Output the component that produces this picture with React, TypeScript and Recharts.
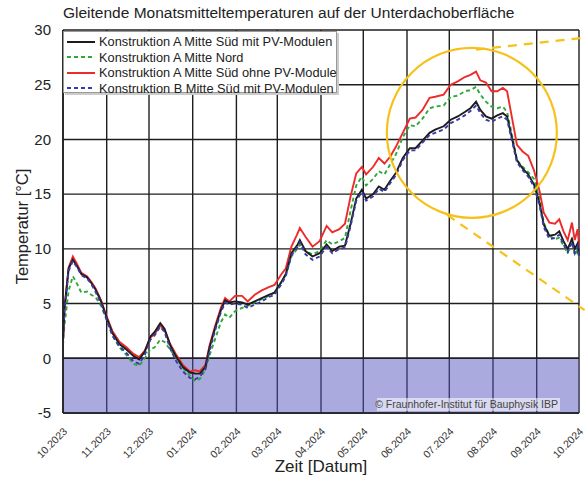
import React from 'react'
import {
  LineChart,
  Line,
  XAxis,
  YAxis,
  CartesianGrid,
  ReferenceArea,
  ReferenceLine,
  ReferenceDot,
  Label,
} from 'recharts'

// days since 01.10.2023
const DAYS = [
  0, 1, 4, 7, 10, 13, 17, 20, 23, 27, 31, 35, 40, 45, 50, 54, 58, 62, 65, 69, 72, 76, 80, 85, 90, 94, 97,
  101, 104, 108, 112, 115, 118, 122, 127, 131, 136, 141, 146, 150, 155, 158, 162, 166, 168, 172, 177, 182,
  187, 191, 196, 200, 204, 208, 212, 215, 220, 224, 228, 232, 236, 241, 246, 250, 255, 260, 264, 270, 275,
  280, 285, 289, 293, 296, 300, 304, 308, 312, 315, 319, 322, 326, 330, 334, 338, 341, 345, 349, 352, 355,
  358, 361, 363, 365, 366,
]

const A_SUED_PV = [
  1.8, 4.5, 8.2, 9.0, 8.4, 7.7, 7.4, 6.9, 6.3, 5.2, 3.7, 2.3, 1.3, 0.8, 0.2, -0.1, 0.6, 2.0, 2.4, 3.2, 2.7,
  1.2, 0.2, -0.8, -1.3, -1.4, -1.4, -0.8, 1.0, 2.8, 4.4, 5.3, 5.1, 5.2, 5.1, 4.9, 5.2, 5.5, 5.8, 6.0, 7.0,
  7.7, 9.6, 10.3, 10.8, 9.8, 9.3, 9.6, 10.4, 9.8, 10.2, 10.3, 12.3, 14.6, 15.4, 14.6, 15.0, 15.7, 15.4,
  16.2, 16.9, 18.3, 19.2, 19.2, 19.9, 20.6, 20.9, 21.2, 21.8, 22.1, 22.5, 22.85, 23.45, 22.7, 22.1, 21.9,
  22.2, 22.4, 22.1, 19.8, 18.1, 17.35, 16.8, 15.9, 14.2, 12.2, 11.2, 11.3, 11.6, 10.7, 10.0, 10.9, 10.0,
  10.5, 9.4,
]

const A_NORD = [
  1.2, 3.0, 6.2, 7.5, 6.8, 6.0, 6.1, 5.8, 5.6, 4.8, 3.5, 2.1, 1.0, 0.3, -0.5, -0.7, 0.0, 0.8, 1.0, 1.7, 1.5,
  0.8, 0.1, -0.9, -1.6, -2.1, -1.9, -1.0, 0.3, 1.8, 3.3, 4.0, 3.7, 4.3, 4.6, 4.8, 5.1, 5.4, 5.7, 6.0, 7.0,
  7.6, 9.3, 10.0, 10.4, 9.8, 9.5, 9.8, 10.8, 10.4, 10.7, 11.0, 13.5, 15.8, 16.6, 15.8, 16.4, 17.1, 16.8,
  17.7, 18.6, 20.2, 21.3, 21.2, 21.9, 22.85, 23.0, 23.1, 23.9, 24.0, 24.4, 24.5, 24.8, 24.1, 23.45, 23.0,
  22.85, 23.0, 22.5, 20.1, 18.1, 17.5, 17.0, 16.4, 14.6, 12.4, 11.2, 10.9, 11.0, 10.3, 9.6, 11.0, 9.4,
  10.0, 9.2,
]

const A_SUED_OHNE = [
  1.5, 4.5, 8.3, 9.3, 8.6, 7.8, 7.5, 7.0, 6.4, 5.3, 3.8, 2.5, 1.5, 1.0, 0.4, 0.1, 0.7, 1.9, 2.2, 3.0, 2.6,
  1.3, 0.4, -0.6, -1.2, -1.1, -1.2, -0.6, 1.2, 3.0, 4.6, 5.5, 5.2, 5.7, 5.7, 5.2, 5.8, 6.2, 6.5, 6.7, 7.7,
  8.2, 10.2, 11.3, 11.9, 11.1, 10.2, 10.7, 12.1, 11.5, 11.8, 12.3, 14.8, 16.9, 17.5, 16.8, 17.5, 18.3,
  17.8, 18.4, 19.3, 20.6, 21.9, 22.0, 22.7, 23.8, 23.9, 24.1, 25.0, 25.3, 25.7, 25.9, 26.2, 25.4, 25.2,
  24.4, 24.4, 24.7, 24.4, 21.6, 19.5, 18.9, 18.5, 17.2, 15.3, 13.3, 12.4, 12.3, 12.7, 11.6, 10.8, 12.4,
  10.8, 11.8, 10.4,
]

const B_SUED_PV = [
  1.6, 4.2, 8.0, 8.9, 8.3, 7.6, 7.3, 6.8, 6.1, 5.0, 3.5, 2.1, 1.1, 0.5, -0.3, -0.5, 0.3, 1.7, 2.1, 2.9, 2.4,
  0.9, -0.2, -1.2, -1.8, -1.9, -1.7, -1.0, 0.7, 2.6, 4.2, 5.1, 4.9, 5.0, 4.9, 4.6, 4.9, 5.2, 5.6, 5.8, 6.8,
  7.5, 9.4, 10.1, 10.6, 9.5, 9.0, 9.3, 10.2, 9.6, 10.0, 10.1, 12.1, 14.4, 15.2, 14.4, 14.8, 15.5, 15.2,
  16.0, 16.7, 18.1, 19.0, 19.0, 19.7, 20.4, 20.6, 20.9, 21.5, 21.8, 22.2, 22.6, 23.1, 22.4, 21.8, 21.6,
  21.9, 22.1, 21.8, 19.6, 17.9, 17.2, 16.6, 15.7, 14.0, 12.0, 10.9, 11.0, 11.3, 10.4, 9.7, 10.6, 9.6,
  10.2, 9.2,
]

const MONTH_TICKS = [0, 31, 61, 92, 123, 152, 183, 213, 244, 274, 305, 336, 366]
const MONTH_LABELS = [
  '10.2023', '11.2023', '12.2023', '01.2024', '02.2024', '03.2024', '04.2024',
  '05.2024', '06.2024', '07.2024', '08.2024', '09.2024', '10.2024',
]
const Y_TICKS = [-5, 0, 5, 10, 15, 20, 25, 30]

const SERIES = [
  { key: 'aSuedPv', name: 'Konstruktion A Mitte Süd mit PV-Modulen', color: '#1c1c1c', dash: undefined },
  { key: 'aNord', name: 'Konstruktion A Mitte Nord', color: '#2fa83a', dash: '4 3' },
  { key: 'aSuedOhne', name: 'Konstruktion A Mitte Süd ohne PV-Module', color: '#ee2a2a', dash: undefined },
  { key: 'bSuedPv', name: 'Konstruktion B Mitte Süd mit PV-Modulen', color: '#3a3aa6', dash: '4 3' },
]
const DRAW_ORDER = ['aNord', 'aSuedOhne', 'aSuedPv', 'bSuedPv']

const rows = DAYS.map((d, i) => ({
  d,
  aSuedPv: A_SUED_PV[i],
  aNord: A_NORD[i],
  aSuedOhne: A_SUED_OHNE[i],
  bSuedPv: B_SUED_PV[i],
}))

const FONT = '"Liberation Sans", Arial, sans-serif'
const GOLD = '#f6c21a'

function MonthTick({ x, y, payload }: any) {
  const i = MONTH_TICKS.indexOf(payload.value)
  return (
    <g transform={`translate(${x + 5},${y + 11})`}>
      <text x={0} y={0} textAnchor="end" transform="rotate(-45)" fontSize={10.5} fill="#333" fontFamily={FONT}>
        {MONTH_LABELS[i]}
      </text>
    </g>
  )
}

function CopyrightLabel({ viewBox }: any) {
  const right = viewBox.x + viewBox.width - 21
  const bottom = viewBox.y + viewBox.height - 2
  return (
    <g>
      <rect x={right - 181} y={bottom - 13} width={183} height={13} fill="#fff" fillOpacity={0.55} />
      <text x={right} y={bottom - 3} textAnchor="end" fontSize={10.5} fill="#444" fontFamily={FONT}>
        © Fraunhofer-Institut für Bauphysik IBP
      </text>
    </g>
  )
}

function ChartLegend() {
  return (
    <div
      style={{
        position: 'absolute', left: 63, top: 31, width: 274, height: 62,
        background: '#fff', border: '1px solid #999', boxShadow: '2px 2px 0 #ccc',
        fontFamily: FONT, fontSize: 12.8, color: '#222', padding: '2px 0 0 2px', boxSizing: 'border-box',
      }}
    >
      {SERIES.map((s) => (
        <div key={s.key} style={{ display: 'flex', alignItems: 'center', height: 15.5 }}>
          <svg width={30} height={6} style={{ marginRight: 3, flexShrink: 0 }}>
            <line x1={1} y1={3} x2={29} y2={3} stroke={s.color} strokeWidth={2} strokeDasharray={s.dash} />
          </svg>
          <span style={{ whiteSpace: 'nowrap' }}>{s.name}</span>
        </div>
      ))}
    </div>
  )
}

export default function App() {
  return (
    <div style={{ position: 'absolute', left: 0, top: 0, width: 585, height: 481, background: '#fff', overflow: 'hidden' }}>
      <LineChart width={585} height={481} data={rows} margin={{ top: 30, right: 6, bottom: 0, left: 0 }}>
        <CartesianGrid stroke="#1e1e1e" strokeWidth={1.4} horizontalValues={Y_TICKS} verticalValues={MONTH_TICKS} />
        <XAxis
          type="number"
          dataKey="d"
          domain={[0, 366]}
          ticks={MONTH_TICKS}
          interval={0}
          height={68}
          tickLine={false}
          axisLine={{ stroke: '#1e1e1e', strokeWidth: 1.6 }}
          tick={<MonthTick />}
        >
          <Label
            content={() => (
              <text x={321} y={472} textAnchor="middle" fontSize={17} fill="#222" fontFamily={FONT}>
                Zeit [Datum]
              </text>
            )}
          />
        </XAxis>
        <YAxis
          type="number"
          domain={[-5, 30]}
          ticks={Y_TICKS}
          interval={0}
          width={63}
          tickLine={false}
          axisLine={{ stroke: '#1e1e1e', strokeWidth: 1.6 }}
          tick={{ fontSize: 15, fill: '#222', fontFamily: FONT }}
          tickMargin={6}
        >
          <Label
            content={({ viewBox }: any) => {
              const cy = viewBox.y + viewBox.height / 2 + 5
              return (
                <text x={28} y={cy} transform={`rotate(-90, 28, ${cy})`} textAnchor="middle" fontSize={16.5} fill="#222" fontFamily={FONT}>
                  Temperatur [°C]
                </text>
              )
            }}
          />
        </YAxis>
        <ReferenceArea y1={-5} y2={0} fill="#5656bd" fillOpacity={0.5} stroke="none" label={<CopyrightLabel />} />
        <ReferenceLine y={0} stroke="#1e1e1e" strokeWidth={1.4} />
        {DRAW_ORDER.map((k) => {
          const s = SERIES.find((x) => x.key === k)!
          return (
            <Line
              key={k}
              type="linear"
              dataKey={k}
              name={s.name}
              stroke={s.color}
              strokeWidth={1.9}
              strokeDasharray={s.dash}
              dot={false}
              isAnimationActive={false}
            />
          )
        })}
        <ReferenceDot x={290} y={20.6} r={85} fill="none" stroke={GOLD} strokeWidth={2.2} ifOverflow="visible" />
        <ReferenceLine
          segment={[{ x: 293, y: 28.2 }, { x: 370, y: 29.3 }]}
          stroke={GOLD}
          strokeWidth={2.2}
          strokeDasharray="9 7"
          ifOverflow="visible"
        />
        <ReferenceLine
          segment={[{ x: 272.5, y: 13.1 }, { x: 370, y: 4.4 }]}
          stroke={GOLD}
          strokeWidth={2.2}
          strokeDasharray="9 7"
          ifOverflow="visible"
        />
      </LineChart>
      <div
        style={{
          position: 'absolute', left: 63, top: 4, fontFamily: FONT, fontSize: 15.5, color: '#222', whiteSpace: 'nowrap',
        }}
      >
        Gleitende Monatsmitteltemperaturen auf der Unterdachoberfläche
      </div>
      <ChartLegend />
    </div>
  )
}
